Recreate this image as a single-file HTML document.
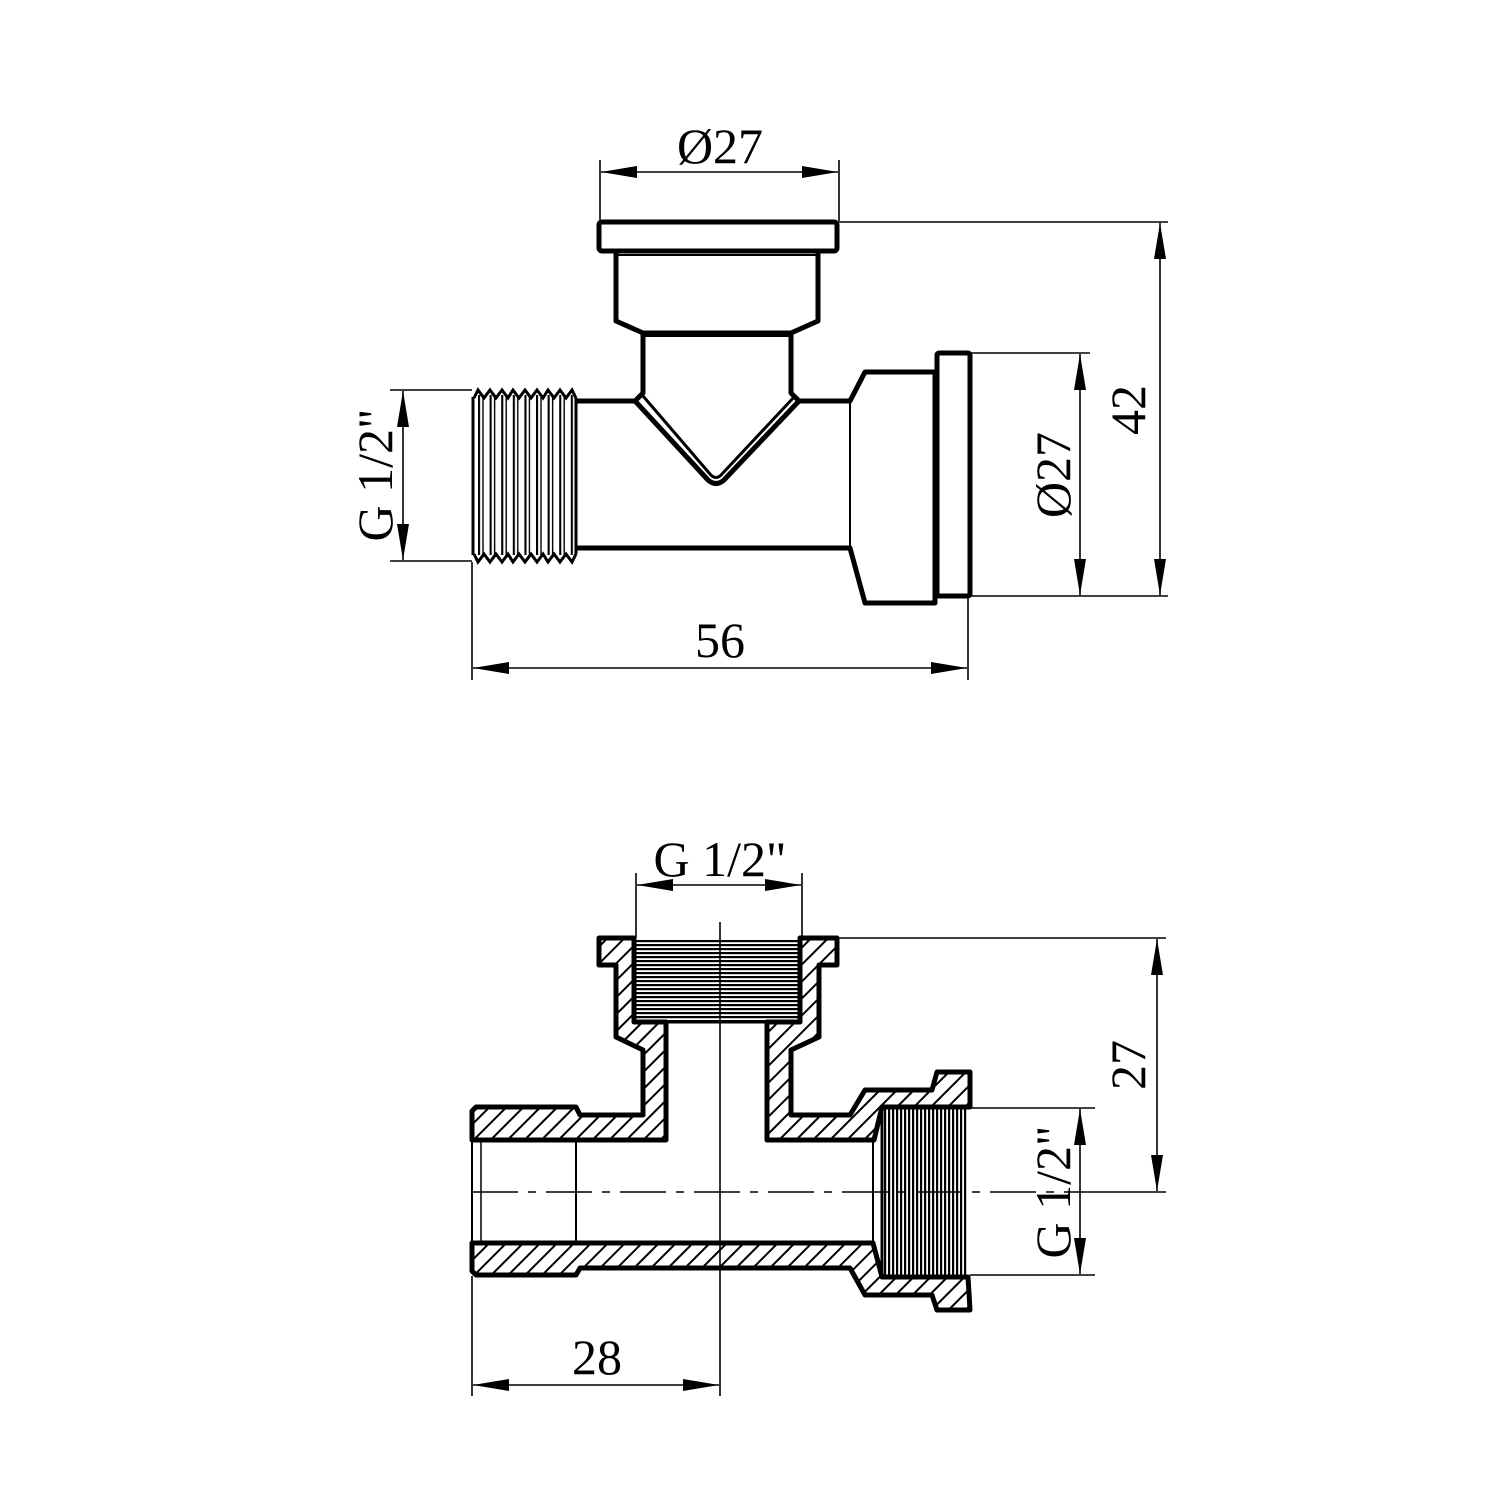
<!DOCTYPE html>
<html><head><meta charset="utf-8"><style>
html,body{margin:0;padding:0;background:#fff;}
svg{display:block;}
text{font-family:"Liberation Serif",serif;font-size:50px;fill:#000;}
</style></head><body>
<svg width="1500" height="1500" viewBox="0 0 1500 1500" xmlns="http://www.w3.org/2000/svg">
<defs>
<pattern id="hatch" patternUnits="userSpaceOnUse" width="12" height="12" patternTransform="rotate(45)">
<line x1="0" y1="0" x2="0" y2="12" stroke="#000" stroke-width="4"/>
</pattern>
<pattern id="hth" patternUnits="userSpaceOnUse" width="4" height="4">
<line x1="0" y1="1" x2="4" y2="1" stroke="#000" stroke-width="2.4"/>
</pattern>
<pattern id="vth" patternUnits="userSpaceOnUse" width="4" height="4">
<line x1="1" y1="0" x2="1" y2="4" stroke="#000" stroke-width="2.4"/>
</pattern>
<pattern id="rib" patternUnits="userSpaceOnUse" x="478" y="0" width="11.6" height="10">
<line x1="1" y1="0" x2="1" y2="10" stroke="#000" stroke-width="2.2"/>
<line x1="5" y1="0" x2="5" y2="10" stroke="#000" stroke-width="1.4"/>
</pattern>
<marker id="ar" viewBox="0 0 36 12" refX="36" refY="6" markerWidth="36" markerHeight="12" markerUnits="userSpaceOnUse" orient="auto-start-reverse">
<path d="M0,0 L36,6 L0,12 Z" fill="#000"/>
</marker>
</defs>

<!-- ============ TOP VIEW ============ -->
<g fill="none" stroke="#000" stroke-width="5" stroke-linejoin="round">
<rect x="599" y="222" width="238" height="29" rx="3"/>
<path d="M616,252 L616,321 L643,333 L791,333 L818,321 L818,252"/>
<line x1="616" y1="255" x2="818" y2="255" stroke-width="2"/>
<line x1="643" y1="336" x2="791" y2="336" stroke-width="2"/>
<path d="M643,333 L643,393 L635,401 L576,401"/>
<path d="M791,333 L791,393 L799,401 L850,401 L865,372 L935,372 L935,603 L865,603 L850,548 L576,548"/>
<path d="M643,396 L710,474 Q716,481 722,474 L795,396" stroke-width="3"/>
<path d="M635,401 L708,480 Q716,487 724,480 L799,401"/>
<rect x="937" y="353" width="33" height="243" rx="2"/>
<line x1="850" y1="401" x2="850" y2="548" stroke-width="2"/>
<line x1="576" y1="398" x2="576" y2="554" stroke-width="3"/>
</g>
<rect x="473" y="395" width="103" height="160" fill="url(#rib)"/>
<path d="M474,398 L478,390 L484,398 L490,390 L496,398 L502,390 L508,398 L513,390 L519,398 L525,390 L531,398 L537,390 L543,398 L548,390 L554,398 L560,390 L566,398 L572,390 L576,398" fill="none" stroke="#000" stroke-width="3"/>
<path d="M474,554 L478,562 L484,554 L490,562 L496,554 L502,562 L508,554 L513,562 L519,554 L525,562 L531,554 L537,562 L543,554 L548,562 L554,554 L560,562 L566,554 L572,562 L576,554" fill="none" stroke="#000" stroke-width="3"/>
<line x1="473" y1="397" x2="473" y2="555" stroke="#000" stroke-width="3"/>

<g stroke="#000" stroke-width="1.6" fill="none">
<line x1="600" y1="160" x2="600" y2="221"/>
<line x1="839" y1="160" x2="839" y2="221"/>
<line x1="601" y1="172" x2="838" y2="172" marker-start="url(#ar)" marker-end="url(#ar)"/>
<line x1="837" y1="222" x2="1168" y2="222"/>
<line x1="970" y1="596" x2="1168" y2="596"/>
<line x1="1160" y1="223" x2="1160" y2="595" marker-start="url(#ar)" marker-end="url(#ar)"/>
<line x1="970" y1="353" x2="1090" y2="353"/>
<line x1="1080" y1="354" x2="1080" y2="595" marker-start="url(#ar)" marker-end="url(#ar)"/>
<line x1="390" y1="390" x2="472" y2="390"/>
<line x1="390" y1="561" x2="472" y2="561"/>
<line x1="403" y1="391" x2="403" y2="560" marker-start="url(#ar)" marker-end="url(#ar)"/>
<line x1="472" y1="562" x2="472" y2="680"/>
<line x1="968" y1="597" x2="968" y2="680"/>
<line x1="473" y1="668" x2="967" y2="668" marker-start="url(#ar)" marker-end="url(#ar)"/>
</g>
<text x="720" y="163" text-anchor="middle">Ø27</text>
<text x="720" y="657" text-anchor="middle">56</text>
<text transform="translate(1145,410) rotate(-90)" text-anchor="middle">42</text>
<text transform="translate(1070,475) rotate(-90)" text-anchor="middle">Ø27</text>
<text transform="translate(392,475) rotate(-90)" text-anchor="middle">G 1/2"</text>

<!-- ============ SECTION VIEW ============ -->
<g stroke="#000" stroke-width="5" stroke-linejoin="round" fill="url(#hatch)">
<path d="M599,938 L634,938 L634,1022 L666,1022 L666,1140 L472,1140 L472,1111 L476,1107 L576,1107 L580,1115 L643,1115 L643,1050 L616,1037 L616,965 L599,965 Z"/>
<path d="M800,938 L837,938 L837,965 L819,965 L819,1037 L791,1050 L791,1115 L850,1115 L865,1090 L932,1090 L937,1072 L970,1072 L970,1107 L882,1107 L874,1140 L767,1140 L767,1022 L800,1022 Z"/>
<path d="M472,1243 L873,1243 L882,1277 L968,1277 L970,1310 L937,1310 L932,1295 L865,1295 L850,1268 L580,1268 L576,1275 L476,1275 L472,1271 Z"/>
</g>
<rect x="634" y="940" width="166" height="82" fill="url(#hth)"/>
<line x1="634" y1="1022" x2="800" y2="1022" stroke="#000" stroke-width="3"/>
<rect x="882" y="1107" width="86" height="170" fill="url(#vth)"/>
<line x1="882" y1="1107" x2="882" y2="1277" stroke="#000" stroke-width="3"/>
<g stroke="#000" stroke-width="2" fill="none">
<line x1="576" y1="1140" x2="576" y2="1243"/>
<line x1="873" y1="1140" x2="873" y2="1243"/>
<line x1="472" y1="1140" x2="472" y2="1243"/>
<line x1="481" y1="1140" x2="481" y2="1243" stroke-width="1.5"/>
<line x1="720" y1="922" x2="720" y2="1322" stroke-width="1.6"/>
<line x1="472" y1="1192" x2="1100" y2="1192" stroke-dasharray="46,10,8,10" stroke-width="1.6"/>
</g>

<g stroke="#000" stroke-width="1.6" fill="none">
<line x1="636" y1="873" x2="636" y2="938"/>
<line x1="802" y1="873" x2="802" y2="938"/>
<line x1="637" y1="885" x2="801" y2="885" marker-start="url(#ar)" marker-end="url(#ar)"/>
<line x1="837" y1="938" x2="1166" y2="938"/>
<line x1="1100" y1="1192" x2="1166" y2="1192"/>
<line x1="1157" y1="939" x2="1157" y2="1191" marker-start="url(#ar)" marker-end="url(#ar)"/>
<line x1="970" y1="1108" x2="1095" y2="1108"/>
<line x1="970" y1="1275" x2="1095" y2="1275"/>
<line x1="1080" y1="1109" x2="1080" y2="1274" marker-start="url(#ar)" marker-end="url(#ar)"/>
<line x1="472" y1="1276" x2="472" y2="1396"/>
<line x1="720" y1="1322" x2="720" y2="1396"/>
<line x1="473" y1="1385" x2="719" y2="1385" marker-start="url(#ar)" marker-end="url(#ar)"/>
</g>
<text x="720" y="876" text-anchor="middle">G 1/2"</text>
<text x="597" y="1374" text-anchor="middle">28</text>
<text transform="translate(1145,1065) rotate(-90)" text-anchor="middle">27</text>
<text transform="translate(1070,1192) rotate(-90)" text-anchor="middle">G 1/2"</text>
</svg>
</body></html>
